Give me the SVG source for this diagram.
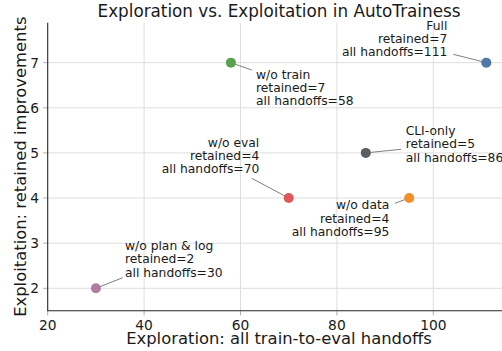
<svg xmlns="http://www.w3.org/2000/svg" width="502" height="351" viewBox="0 0 502 351">
<style>
text{font-family:"DejaVu Sans","Liberation Sans",sans-serif;fill:#1a1a1a}
.grid line{stroke:#dedede;stroke-width:1}
.tick line{stroke:#b0b0b0;stroke-width:1}
.spine{stroke:#262626;stroke-width:1.1;fill:none}
.tl{font-size:13.8px}
.ann{font-size:12.3px}
.lbl{font-size:16.4px}
.conn line{stroke:#707070;stroke-width:0.9}
.pt{stroke:none}
</style>
<rect width="502" height="351" fill="#ffffff"/>
<g class="grid">
<line x1="144.1" y1="22.7" x2="144.1" y2="310.7"/>
<line x1="240.5" y1="22.7" x2="240.5" y2="310.7"/>
<line x1="336.9" y1="22.7" x2="336.9" y2="310.7"/>
<line x1="433.3" y1="22.7" x2="433.3" y2="310.7"/>
<line x1="47.7" y1="62.65" x2="502" y2="62.65"/>
<line x1="47.7" y1="107.8" x2="502" y2="107.8"/>
<line x1="47.7" y1="152.9" x2="502" y2="152.9"/>
<line x1="47.7" y1="198" x2="502" y2="198"/>
<line x1="47.7" y1="243.2" x2="502" y2="243.2"/>
<line x1="47.7" y1="288.3" x2="502" y2="288.3"/>
</g>
<g class="tick">
<line x1="43" y1="62.65" x2="47.7" y2="62.65"/>
<line x1="43" y1="107.8" x2="47.7" y2="107.8"/>
<line x1="43" y1="152.9" x2="47.7" y2="152.9"/>
<line x1="43" y1="198" x2="47.7" y2="198"/>
<line x1="43" y1="243.2" x2="47.7" y2="243.2"/>
<line x1="43" y1="288.3" x2="47.7" y2="288.3"/>
<line x1="47.7" y1="310.7" x2="47.7" y2="315.4"/>
<line x1="144.1" y1="310.7" x2="144.1" y2="315.4"/>
<line x1="240.5" y1="310.7" x2="240.5" y2="315.4"/>
<line x1="336.9" y1="310.7" x2="336.9" y2="315.4"/>
<line x1="433.3" y1="310.7" x2="433.3" y2="315.4"/>
</g>
<path class="spine" d="M47.7,22.7 V310.7 H502"/>
<g class="tl" text-anchor="end">
<text x="39" y="67.7">7</text>
<text x="39" y="112.8">6</text>
<text x="39" y="157.9">5</text>
<text x="39" y="203">4</text>
<text x="39" y="248.2">3</text>
<text x="39" y="293.3">2</text>
</g>
<g class="tl" text-anchor="middle">
<text x="47.7" y="329.5">20</text>
<text x="144.1" y="329.5">40</text>
<text x="240.5" y="329.5">60</text>
<text x="336.9" y="329.5">80</text>
<text x="433.3" y="329.5">100</text>
</g>
<text x="279" y="17.3" text-anchor="middle" style="font-size:16.8px">Exploration vs. Exploitation in AutoTrainess</text>
<text class="lbl" x="279" y="343.5" text-anchor="middle">Exploration: all train-to-eval handoffs</text>
<text class="lbl" transform="translate(26,166.7) rotate(-90)" text-anchor="middle">Exploitation: retained improvements</text>
<g class="conn">
<line x1="453.3" y1="54.3" x2="486.3" y2="62.65"/>
<line x1="230.9" y1="62.65" x2="251.7" y2="70"/>
<line x1="251.7" y1="178.3" x2="288.7" y2="198"/>
<line x1="365.8" y1="152.9" x2="401" y2="149.3"/>
<line x1="395" y1="203.3" x2="409.2" y2="198"/>
<line x1="95.9" y1="288.3" x2="122.7" y2="277.7"/>
</g>
<g id="full">
<circle class="pt" cx="486.3" cy="62.65" r="5" fill="#4e79a7"/>
<text class="ann" text-anchor="end"><tspan x="447.3" y="29.8">Full</tspan><tspan x="447.3" y="42.8">retained=7</tspan><tspan x="447.3" y="55.8">all handoffs=111</tspan></text>
</g>
<g id="wo-train">
<circle class="pt" cx="230.9" cy="62.65" r="5" fill="#59a14f"/>
<text class="ann"><tspan x="256" y="79">w/o train</tspan><tspan x="256" y="92">retained=7</tspan><tspan x="256" y="105">all handoffs=58</tspan></text>
</g>
<g id="cli-only">
<circle class="pt" cx="365.8" cy="152.9" r="5" fill="#595d64"/>
<text class="ann"><tspan x="405.7" y="135">CLI-only</tspan><tspan x="405.7" y="148.2">retained=5</tspan><tspan x="405.7" y="161.5">all handoffs=86</tspan></text>
</g>
<g id="wo-eval">
<circle class="pt" cx="288.7" cy="198" r="5" fill="#e15759"/>
<text class="ann" text-anchor="end"><tspan x="259.3" y="146.6">w/o eval</tspan><tspan x="259.3" y="159.8">retained=4</tspan><tspan x="259.3" y="173">all handoffs=70</tspan></text>
</g>
<g id="wo-data">
<circle class="pt" cx="409.2" cy="198" r="5" fill="#f28e2b"/>
<text class="ann" text-anchor="end"><tspan x="389.3" y="209.4">w/o data</tspan><tspan x="389.3" y="222.6">retained=4</tspan><tspan x="389.3" y="235.8">all handoffs=95</tspan></text>
</g>
<g id="wo-plan-log">
<circle class="pt" cx="95.9" cy="288.3" r="5" fill="#b07aa1"/>
<text class="ann"><tspan x="125" y="250.2">w/o plan &amp; log</tspan><tspan x="125" y="263.4">retained=2</tspan><tspan x="125" y="276.6">all handoffs=30</tspan></text>
</g>
</svg>
